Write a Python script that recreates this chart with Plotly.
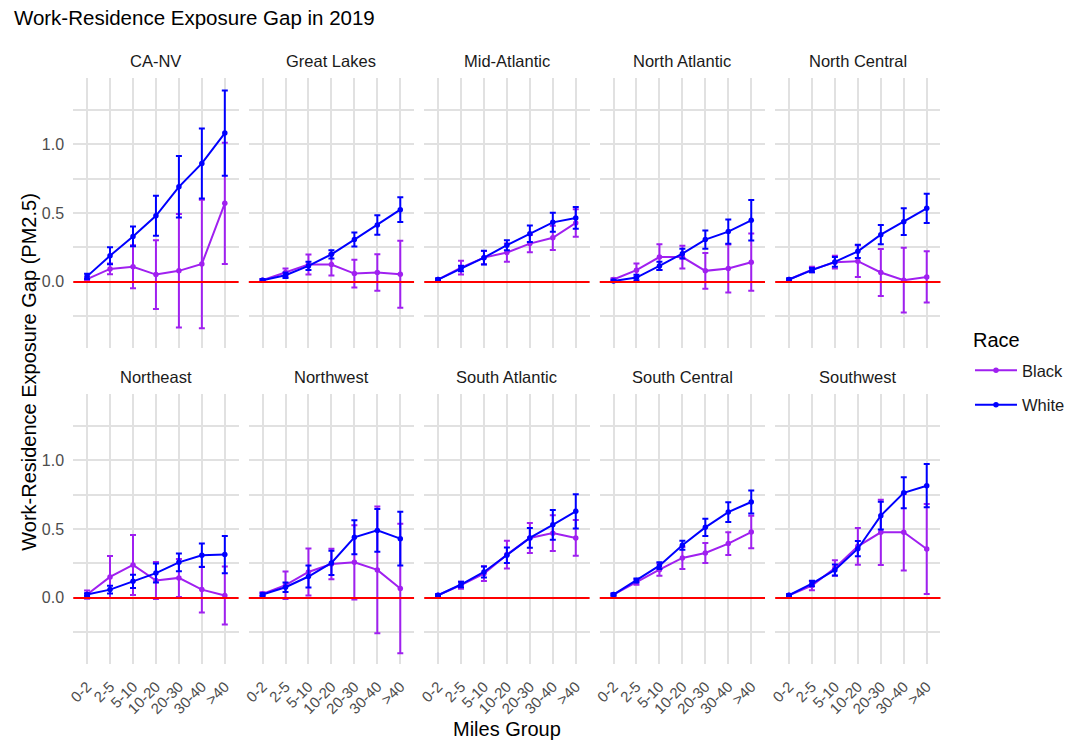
import plotly.graph_objects as go

# Distance bins shared by every panel
miles_groups = ["0-2", "2-5", "5-10", "10-20", "20-30", "30-40", ">40"]

# Census regions, one facet each (row-major order)
regions = ["CA-NV", "Great Lakes", "Mid-Atlantic", "North Atlantic", "North Central",
           "Northeast", "Northwest", "South Atlantic", "South Central", "Southwest"]

# Mean work-minus-residence PM2.5 gap for White workers, one row per region
white_gap = [
    [0.040, 0.190, 0.330, 0.480, 0.690, 0.860, 1.080],
    [0.012, 0.048, 0.116, 0.200, 0.307, 0.413, 0.524],
    [0.017, 0.097, 0.176, 0.266, 0.350, 0.432, 0.464],
    [0.007, 0.031, 0.116, 0.205, 0.307, 0.365, 0.447],
    [0.017, 0.085, 0.145, 0.222, 0.343, 0.437, 0.534],
    [0.024, 0.060, 0.120, 0.180, 0.258, 0.309, 0.314],
    [0.024, 0.077, 0.155, 0.254, 0.440, 0.490, 0.430],
    [0.019, 0.097, 0.188, 0.310, 0.435, 0.530, 0.628],
    [0.024, 0.126, 0.234, 0.382, 0.512, 0.623, 0.696],
    [0.019, 0.104, 0.203, 0.357, 0.597, 0.763, 0.814],
]
# Half-width of the confidence interval for White workers
white_err = [
    [0.019, 0.062, 0.072, 0.145, 0.223, 0.254, 0.310],
    [0.008, 0.020, 0.030, 0.030, 0.051, 0.070, 0.090],
    [0.008, 0.020, 0.050, 0.036, 0.060, 0.069, 0.079],
    [0.008, 0.020, 0.030, 0.036, 0.066, 0.088, 0.147],
    [0.008, 0.015, 0.036, 0.048, 0.069, 0.097, 0.106],
    [0.010, 0.028, 0.048, 0.069, 0.064, 0.085, 0.135],
    [0.010, 0.034, 0.080, 0.088, 0.123, 0.155, 0.195],
    [0.008, 0.020, 0.040, 0.056, 0.072, 0.108, 0.125],
    [0.008, 0.015, 0.025, 0.033, 0.063, 0.072, 0.083],
    [0.008, 0.020, 0.040, 0.055, 0.100, 0.113, 0.157],
]
# Mean gap for Black workers
black_gap = [
    [0.020, 0.094, 0.110, 0.053, 0.080, 0.130, 0.570],
    [0.012, 0.068, 0.126, 0.126, 0.060, 0.068, 0.056],
    [0.017, 0.104, 0.176, 0.213, 0.278, 0.320, 0.428],
    [0.017, 0.085, 0.180, 0.180, 0.080, 0.097, 0.143],
    [0.017, 0.089, 0.143, 0.150, 0.068, 0.012, 0.036],
    [0.024, 0.152, 0.239, 0.126, 0.145, 0.060, 0.017],
    [0.029, 0.092, 0.188, 0.246, 0.258, 0.203, 0.068],
    [0.019, 0.092, 0.176, 0.314, 0.435, 0.470, 0.435],
    [0.024, 0.116, 0.205, 0.290, 0.326, 0.394, 0.478],
    [0.019, 0.089, 0.217, 0.374, 0.476, 0.476, 0.355],
]
# Half-width of the confidence interval for Black workers
black_err = [
    [0.010, 0.039, 0.156, 0.249, 0.412, 0.467, 0.440],
    [0.008, 0.030, 0.072, 0.079, 0.100, 0.133, 0.243],
    [0.008, 0.050, 0.048, 0.066, 0.063, 0.088, 0.100],
    [0.010, 0.048, 0.093, 0.082, 0.130, 0.175, 0.208],
    [0.008, 0.020, 0.046, 0.115, 0.170, 0.235, 0.186],
    [0.030, 0.152, 0.218, 0.135, 0.138, 0.166, 0.210],
    [0.012, 0.100, 0.170, 0.111, 0.270, 0.460, 0.470],
    [0.008, 0.025, 0.053, 0.100, 0.109, 0.130, 0.130],
    [0.008, 0.020, 0.045, 0.080, 0.072, 0.083, 0.118],
    [0.008, 0.034, 0.057, 0.133, 0.237, 0.278, 0.326],
]

race_colors = {"Black": "#A020F0", "White": "#0000FF"}

W, H = 1070, 742
PANEL_W = 167
PANEL_STEP = 177.3
PANEL_LEFT = 68
ROW_TOPS = [78, 394]
PANEL_H = 270
GRID = "#e1e1e1"
TICK_COLOR = "#4d4d4d"
FONT = "Liberation Sans, Arial, sans-serif"

fig = go.Figure()
layout = {}
annotations = []
shapes = []

for i, region in enumerate(regions):
    row, col = divmod(i, 5)
    n = "" if i == 0 else str(i + 1)
    xa, ya = "x" + n, "y" + n
    left = PANEL_LEFT + col * PANEL_STEP
    top = ROW_TOPS[row]

    layout["xaxis" + n] = dict(
        domain=[left / W, (left + PANEL_W) / W],
        anchor=ya,
        type="category",
        categoryorder="array",
        categoryarray=miles_groups,
        range=[-0.6, 6.6],
        showgrid=True, gridcolor=GRID, gridwidth=2,
        zeroline=False, showline=False, ticks="",
        showticklabels=(row == 1),
        tickangle=-45,
        ticklabelstandoff=10,
        tickfont=dict(size=15, color=TICK_COLOR, family=FONT),
        fixedrange=True,
    )
    layout["yaxis" + n] = dict(
        domain=[1 - (top + PANEL_H) / H, 1 - top / H],
        anchor=xa,
        range=[-0.48, 1.48],
        tickvals=[0, 0.5, 1.0],
        ticktext=["0.0", "0.5", "1.0"],
        showgrid=True, gridcolor=GRID, gridwidth=2,
        minor=dict(tickvals=[-0.25, 0.25, 0.75, 1.25], showgrid=True,
                   gridcolor=GRID, gridwidth=1.5, ticks=""),
        zeroline=False, showline=False,
        ticks="outside", ticklen=5, tickcolor="rgba(0,0,0,0)",
        showticklabels=(col == 0),
        tickfont=dict(size=16, color=TICK_COLOR, family=FONT),
        fixedrange=True,
    )

    # Reference line at zero gap
    shapes.append(dict(type="line", xref=xa + " domain", yref=ya,
                       x0=0, x1=1, y0=0, y1=0,
                       line=dict(color="#FF0000", width=2), layer="above"))

    for race, gaps, errs in (("Black", black_gap, black_err),
                             ("White", white_gap, white_err)):
        color = race_colors[race]
        fig.add_trace(go.Scatter(
            x=miles_groups, y=gaps[i],
            mode="lines+markers",
            name=race, legendgroup=race, showlegend=(i == 0),
            line=dict(color=color, width=2),
            marker=dict(color=color, size=5.5),
            error_y=dict(type="data", array=errs[i], visible=True,
                         color=color, thickness=2, width=3),
            xaxis=xa, yaxis=ya,
        ))

    # Facet strip label
    annotations.append(dict(
        text=region, x=(left + PANEL_W / 2) / W, y=1 - (top - 17) / H,
        xref="paper", yref="paper", showarrow=False,
        xanchor="center", yanchor="middle",
        font=dict(size=16.5, color="#1a1a1a", family=FONT)))

annotations.append(dict(
    text="Work-Residence Exposure Gap (PM2.5)", textangle=-90,
    x=23 / W, y=1 - 372 / H, xref="paper", yref="paper", showarrow=False,
    xanchor="center", yanchor="middle",
    font=dict(size=20, color="#000000", family=FONT)))
annotations.append(dict(
    text="Miles Group", x=506 / W, y=1 - 729 / H, xref="paper", yref="paper",
    showarrow=False, xanchor="center", yanchor="middle",
    font=dict(size=20, color="#000000", family=FONT)))
# Legend heading
annotations.append(dict(
    text="Race", x=975 / W, y=1 - 340 / H, xref="paper", yref="paper",
    showarrow=False, xanchor="left", yanchor="middle",
    font=dict(size=20, color="#000000", family=FONT)))

fig.update_layout(
    width=W, height=H,
    margin=dict(l=0, r=0, t=0, b=0),
    paper_bgcolor="white", plot_bgcolor="white",
    font=dict(family=FONT),
    title=dict(text="Work-Residence Exposure Gap in 2019",
               x=8 / W, xanchor="left", xref="paper",
               y=1 - 18 / H, yanchor="middle", yref="container",
               font=dict(size=20.5, color="#000000", family=FONT)),
    legend=dict(
        x=974 / W, y=1 - 353 / H, xanchor="left", yanchor="top",
        font=dict(size=16.5, color="#1a1a1a"),
        itemwidth=42,
        traceorder="grouped", tracegroupgap=10,
        bgcolor="rgba(0,0,0,0)",
    ),
    annotations=annotations,
    shapes=shapes,
    **layout,
)

fig.write_html("out.html")
